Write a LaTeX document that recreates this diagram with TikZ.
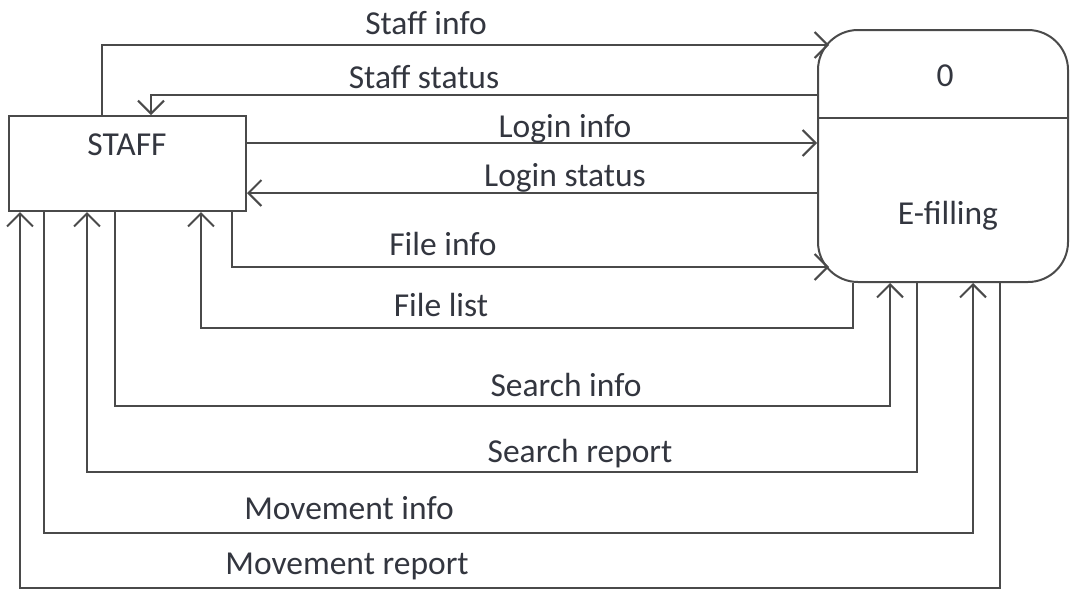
\documentclass[tikz,border=0pt]{standalone}
\usepackage{fontspec}
\setmainfont{Carlito}
\usetikzlibrary{arrows.meta}
\definecolor{ln}{HTML}{4A4A4A}
\definecolor{tx}{HTML}{33363F}
\begin{document}
\begin{tikzpicture}[x=1pt,y=-1pt,
  line width=2pt, draw=ln,
  arr/.style={draw=ln, line width=2pt, -{Straight Barb[length=13pt,width=26pt,line width=2pt]}},
  plain/.style={draw=ln, line width=2pt},
  lbl/.style={anchor=base, text=tx, font=\fontsize{33.5}{40}\selectfont, inner sep=0pt},
  entity/.style={draw=ln, line width=2pt, minimum width=237pt, minimum height=95pt, inner sep=0pt},
  process/.style={draw=ln, line width=2pt, rounded corners=40pt, minimum width=250pt, minimum height=252pt, inner sep=0pt}]
\useasboundingbox (0,0) rectangle (1075,590);

\node[entity] (staff) at (127.5,163.5) {};
\node[lbl] (stafft) at (127,155) {STAFF};
\node[process] (efill) at (943,156) {};
\draw[plain] (efill.west |- 0,118) -- (efill.east |- 0,118);
\node[lbl] (num) at (945,86) {0};
\node[lbl] (efillt) at (948,224) {E-filling};

% Staff info
\draw[arr] (102,0 |- staff.north) |- ([shift={(12,16)}]efill.north west);
\node[lbl] at (426,34) {Staff info};
% Staff status
\draw[arr] (efill.west |- 0,95) -| (151,0 |- staff.north);
\node[lbl] at (424,88) {Staff status};
% Login info
\draw[arr] (staff.east |- 0,143) -- (efill.west |- 0,143);
\node[lbl] at (565,137) {Login info};
% Login status
\draw[arr] (efill.west |- 0,193) -- (staff.east |- 0,193);
\node[lbl] at (565,186) {Login status};
% File info
\draw[arr] (232,0 |- staff.south) |- ([shift={(12,-16)}]efill.south west);
\node[lbl] at (443,255) {File info};
% File list
\draw[arr] (853,0 |- efill.south) -- (853,328) -| (201,0 |- staff.south);
\node[lbl] at (441,316) {File list};
% Search info
\draw[arr] (115,0 |- staff.south) -- (115,406) -| (890,0 |- efill.south);
\node[lbl] at (566,396) {Search info};
% Search report
\draw[arr] (917,0 |- efill.south) -- (917,472) -| (87,0 |- staff.south);
\node[lbl] at (580,462) {Search report};
% Movement info
\draw[arr] (44,0 |- staff.south) -- (44,533) -| (973,0 |- efill.south);
\node[lbl] at (349,519) {Movement info};
% Movement report
\draw[arr] (1000,0 |- efill.south) -- (1000,588) -| (20,0 |- staff.south);
\node[lbl] at (347,574) {Movement report};
\end{tikzpicture}
\end{document}
